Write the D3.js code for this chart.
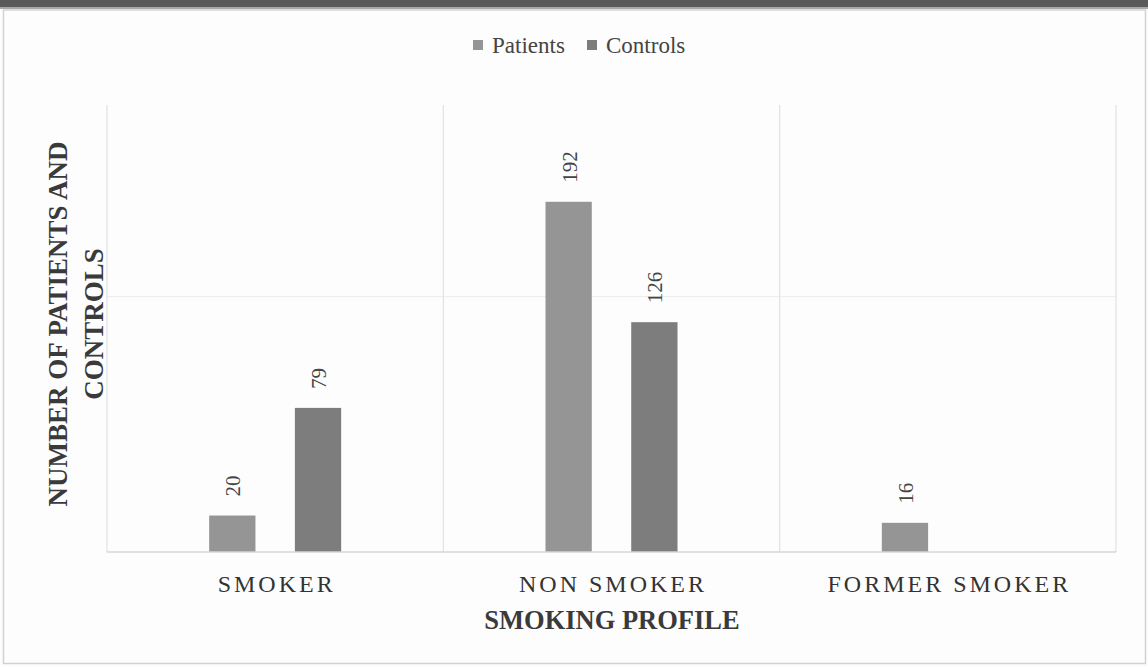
<!DOCTYPE html>
<html>
<head>
<meta charset="utf-8">
<script src="https://cdn.jsdelivr.net/npm/d3@7"></script>
<style>
  html, body { margin: 0; padding: 0; background: #ffffff; }
  svg { display: block; }
  svg text { font-family: "Liberation Serif", "DejaVu Serif", serif; }
</style>
</head>
<body>
<svg id="chart" width="1148" height="667"></svg>
<script>
// Smoking profile of patients and controls
const categories = ["SMOKER", "NON SMOKER", "FORMER SMOKER"];
const seriesNames = ["Patients", "Controls"];
const patients = [20, 192, 16];
const controls = [79, 126, null];
const gridValues = [140];

const colors = { Patients: "#959595", Controls: "#7d7d7d" };
const SERIF = '"Liberation Serif", "DejaVu Serif", serif';
const W = 1148, H = 667;
const margin = { left: 107, right: 32, top: 96, bottom: 115 };

const svg = d3.select("#chart");

// page frame
svg.append("rect").attr("x", 0).attr("y", 0).attr("width", W).attr("height", H).attr("fill", "#fdfdfd");
svg.append("rect").attr("x", 0).attr("y", 0).attr("width", W).attr("height", 7).attr("fill", "#595959");
svg.append("rect").attr("x", 0).attr("y", 7).attr("width", W).attr("height", 2).attr("fill", "#a8a8a8");
svg.append("rect").attr("x", 3.5).attr("y", 10).attr("width", W - 6).attr("height", H - 13.5)
  .attr("fill", "none").attr("stroke", "#d2d2d2").attr("stroke-width", 1.5);

const x0 = d3.scaleBand().domain(categories).range([margin.left, W - margin.right]).paddingInner(0).paddingOuter(0);
const x1 = d3.scaleBand().domain(seriesNames).range([x0.bandwidth() / 2 - 66, x0.bandwidth() / 2 + 66]).paddingInner(0.46).paddingOuter(0);
const y = d3.scaleLinear().domain([0, 250]).range([H - margin.bottom, margin.top]);

const plotTop = 105;
// gridlines
const g = svg.append("g");
g.selectAll(".hgrid").data(gridValues).join("line")
  .attr("x1", margin.left).attr("x2", W - margin.right)
  .attr("y1", d => y(d)).attr("y2", d => y(d))
  .attr("stroke", "#ececec").attr("stroke-width", 1);
const bounds = categories.map(c => x0(c)).concat([x0(categories[categories.length - 1]) + x0.bandwidth()]);
g.selectAll(".vgrid").data(bounds).join("line")
  .attr("x1", d => d).attr("x2", d => d)
  .attr("y1", plotTop).attr("y2", y(0))
  .attr("stroke", "#e2e2e2").attr("stroke-width", 1.2);

// bars
const rows = categories.map((c, i) => ({ cat: c, values: [
  { s: "Patients", v: patients[i] }, { s: "Controls", v: controls[i] }
].filter(d => d.v !== null) }));

const cg = svg.selectAll(".cat").data(rows).join("g").attr("transform", d => `translate(${x0(d.cat)},0)`);
cg.selectAll("rect").data(d => d.values).join("rect")
  .attr("x", d => x1(d.s)).attr("width", x1.bandwidth())
  .attr("y", d => y(d.v)).attr("height", d => y(0) - y(d.v))
  .attr("fill", d => colors[d.s]);

// value labels, rotated
cg.selectAll("text").data(d => d.values).join("text")
  .attr("transform", d => `translate(${x1(d.s) + x1.bandwidth() / 2 + 8},${y(d.v) - 19}) rotate(-90)`)
  .attr("text-anchor", "start")
  .style("font-family", SERIF).style("font-size", "21px").attr("fill", "#444")
  .text(d => d.v);

// baseline
svg.append("line").attr("x1", margin.left).attr("x2", W - margin.right)
  .attr("y1", y(0)).attr("y2", y(0)).attr("stroke", "#d6d6d6").attr("stroke-width", 1.5);

// category axis
const xAxis = svg.append("g").attr("transform", `translate(0,${y(0)})`)
  .call(d3.axisBottom(x0).tickSize(0).tickPadding(23));
xAxis.attr("font-family", null).attr("font-size", null);
xAxis.select(".domain").remove();
xAxis.selectAll("text")
  .style("font-family", SERIF).style("font-size", "24px")
  .style("letter-spacing", "3px").attr("dx", "1.5px").attr("fill", "#333");

// axis titles
svg.append("text").attr("x", 612).attr("y", 629)
  .attr("text-anchor", "middle").style("font-family", SERIF)
  .style("font-weight", "bold").style("font-size", "26.5px").attr("fill", "#3a3a3a")
  .text("SMOKING PROFILE");

const yt = svg.append("text").attr("transform", "translate(0,324) rotate(-90)")
  .attr("text-anchor", "middle").style("font-family", SERIF)
  .style("font-weight", "bold").style("font-size", "27px").attr("fill", "#3a3a3a");
yt.append("tspan").attr("x", 0).attr("y", 67).text("NUMBER OF PATIENTS AND");
yt.append("tspan").attr("x", 0).attr("y", 103).text("CONTROLS");

// legend
const legend = svg.append("g").attr("transform", "translate(473,45)");
const lx = [0, 114];
seriesNames.forEach((s, i) => {
  const lg = legend.append("g").attr("transform", `translate(${lx[i]},0)`);
  lg.append("rect").attr("x", 0).attr("y", -5).attr("width", 10).attr("height", 10).attr("fill", colors[s]);
  lg.append("text").attr("x", 19).attr("y", 8).style("font-family", SERIF)
    .style("font-size", "23px").attr("fill", "#444").text(s);
});
</script>
</body>
</html>
